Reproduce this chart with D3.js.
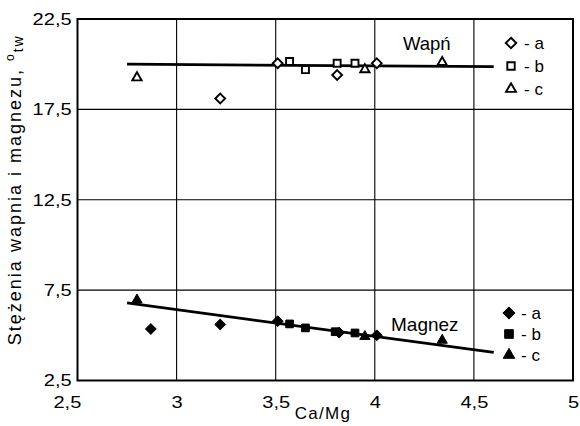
<!DOCTYPE html>
<html><head><meta charset="utf-8">
<script src="https://cdn.jsdelivr.net/npm/d3@7"></script>
<style>body{margin:0;background:#fff}svg{display:block}text{font-family:"Liberation Sans",Arial,sans-serif;fill:#000}</style>
</head><body>
<svg id="c" width="580" height="426"></svg>
<script>
const xTicks = [2.5, 3, 3.5, 4, 4.5, 5];
const yTicks = [2.5, 7.5, 12.5, 17.5, 22.5];
const seriesNames = ["a", "b", "c"];
// Wapń (calcium) — open markers
const wapnA = [[3.22, 18.1], [3.51, 20.05], [3.81, 19.4], [4.01, 20.05]];
const wapnB = [[3.57, 20.15], [3.65, 19.7], [3.81, 20.05], [3.9, 20.05]];
const wapnC = [[2.80, 19.2], [3.95, 19.65], [4.34, 20.05]];
const wapnTrend = [[2.75, 20.0], [4.6, 19.86]];
// Magnez (magnesium) — filled markers
const magA = [[2.87, 5.35], [3.22, 5.6], [3.51, 5.78], [3.82, 5.15], [4.01, 5.0]];
const magB = [[3.57, 5.63], [3.65, 5.41], [3.80, 5.2], [3.9, 5.13]];
const magC = [[2.80, 6.9], [3.95, 4.88], [4.34, 4.67]];
const magTrend = [[2.75, 6.79], [4.6, 4.06]];

const svg = d3.select("#c");
const L = 77.5, R = 573, T = 19, B = 380.5;
const x = d3.scaleLinear().domain([2.5, 5]).range([L, R]);
const y = d3.scaleLinear().domain([2.5, 22.5]).range([B, T]);
const fmt = d => String(d).replace(".", ",");

// grid
svg.append("g").selectAll("line").data(xTicks.slice(1, -1)).join("line")
  .attr("x1", d => x(d)).attr("x2", d => x(d)).attr("y1", T).attr("y2", B)
  .attr("stroke", "#000").attr("stroke-width", 1.1);
svg.append("g").selectAll("line").data(yTicks.slice(1, -1)).join("line")
  .attr("y1", d => y(d)).attr("y2", d => y(d)).attr("x1", L).attr("x2", R)
  .attr("stroke", "#000").attr("stroke-width", 1.1);
svg.append("rect").attr("x", L).attr("y", T).attr("width", R - L).attr("height", B - T)
  .attr("fill", "none").attr("stroke", "#000").attr("stroke-width", 2);

// axes (labels only)
const xa = svg.append("g").attr("transform", `translate(0,${B})`)
  .call(d3.axisBottom(x).tickValues(xTicks).tickFormat(fmt).tickSize(0).tickPadding(15));
xa.select(".domain").remove();
xa.selectAll("text").attr("font-size", 17).attr("font-family", "Liberation Sans, Arial, sans-serif")
  .attr("transform", "scale(1.18,1)");
xa.selectAll(".tick").filter(d => d === 2.5).select("text").attr("dx", -9);
const ya = svg.append("g").attr("transform", `translate(${L},0)`)
  .call(d3.axisLeft(y).tickValues(yTicks).tickFormat(fmt).tickSize(0).tickPadding(5));
ya.select(".domain").remove();
ya.selectAll("text").attr("font-size", 17).attr("font-family", "Liberation Sans, Arial, sans-serif")
  .attr("transform", "scale(1.18,1)");

svg.append("text").attr("x", 323).attr("y", 419).attr("text-anchor", "middle")
  .attr("font-size", 17).attr("letter-spacing", 1.3).text("Ca/Mg");
const yl = svg.append("text").attr("transform", `translate(21,${(T + B) / 2 - 10}) rotate(-90)`)
  .attr("text-anchor", "middle").attr("font-size", 18).attr("letter-spacing", 2);
yl.append("tspan").text("Stężenia wapnia i magnezu, ");
yl.append("tspan").attr("font-size", 12).attr("dy", -7).text("o");
yl.append("tspan").attr("font-size", 14).attr("dy", 9).text("tw");

// trend lines
const line = d3.line().x(d => x(d[0])).y(d => y(d[1]));
[wapnTrend, magTrend].forEach(t => svg.append("path").attr("d", line(t))
  .attr("fill", "none").attr("stroke", "#000").attr("stroke-width", 2.8));

// markers
const shapes = {a: d3.symbolDiamond2, b: d3.symbolSquare2, c: d3.symbolTriangle2};
function drawMarkers(data, key, filled) {
  svg.append("g").selectAll("path").data(data).join("path")
    .attr("transform", d => `translate(${x(d[0])},${y(d[1]) + (key === "c" ? -1 : 0)})`)
    .attr("d", d3.symbol(shapes[key], filled ? 75 : 62))
    .attr("fill", filled ? "#000" : "#fff").attr("stroke", "#000")
    .attr("stroke-width", filled ? 1 : 1.9);
}
drawMarkers(wapnA, "a", false); drawMarkers(wapnB, "b", false); drawMarkers(wapnC, "c", false);
drawMarkers(magA, "a", true); drawMarkers(magB, "b", true); drawMarkers(magC, "c", true);

// labels
svg.append("text").attr("x", 403).attr("y", 50).attr("font-size", 18.5).text("Wapń");
svg.append("text").attr("x", 391).attr("y", 331).attr("font-size", 19).text("Magnez");

// legends
function legend(y0, step, sx, tx, filled) {
  seriesNames.forEach((k, i) => {
    const yy = y0 + i * step;
    svg.append("path").attr("transform", `translate(${sx},${yy})`)
      .attr("d", d3.symbol(shapes[k], filled ? 95 : 70)).attr("fill", filled ? "#000" : "#fff")
      .attr("stroke", "#000").attr("stroke-width", filled ? 1 : 1.9);
    svg.append("text").attr("x", tx).attr("y", yy + 6).attr("font-size", 17).text("- " + k);
  });
}
legend(43, 23, 511, 524, false);
legend(313, 21, 509, 521, true);
</script>
</body></html>
